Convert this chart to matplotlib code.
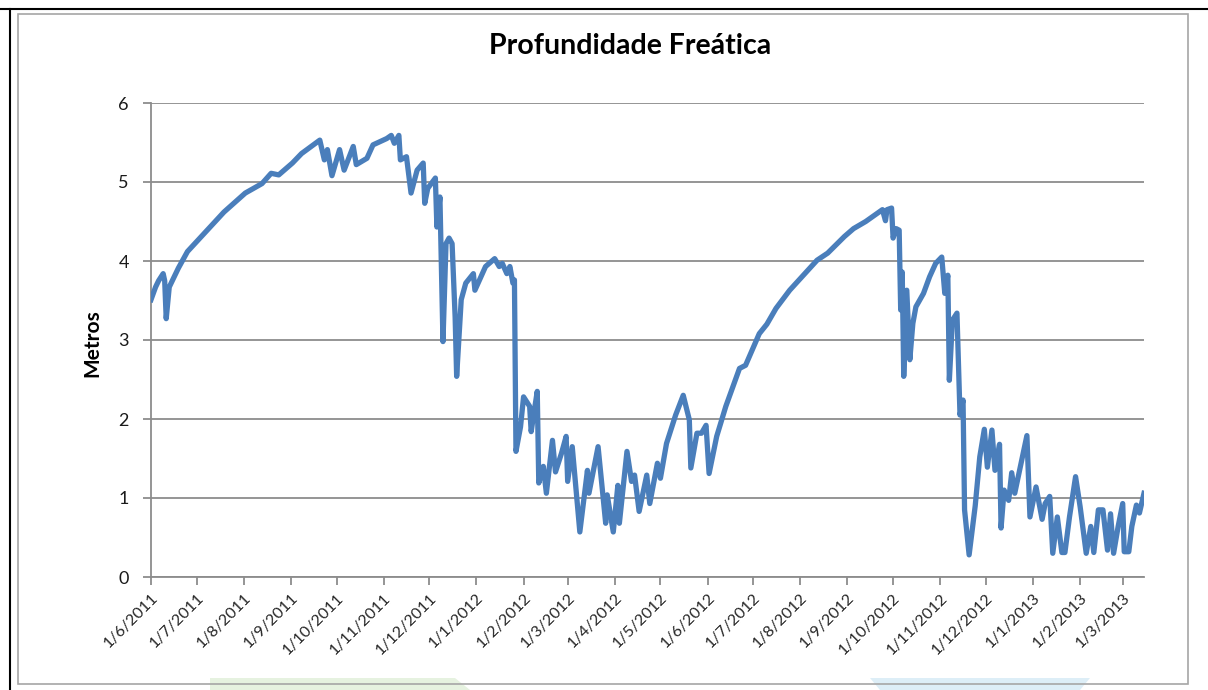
import matplotlib
matplotlib.use("Agg")
import matplotlib.pyplot as plt
from matplotlib.patches import Rectangle, Polygon
from matplotlib.lines import Line2D
import pandas as pd

title = "Profundidade Freática"
ylabel = "Metros"

dates = [
    "2011-06-01", "2011-06-04", "2011-06-06", "2011-06-09", "2011-06-10", "2011-06-11",
    "2011-06-13", "2011-06-19", "2011-06-25", "2011-07-06", "2011-07-19", "2011-08-02",
    "2011-08-13", "2011-08-19", "2011-08-24", "2011-09-02", "2011-09-08", "2011-09-20",
    "2011-09-23", "2011-09-25", "2011-09-28", "2011-10-03", "2011-10-06", "2011-10-12",
    "2011-10-14", "2011-10-21", "2011-10-25", "2011-11-03", "2011-11-06", "2011-11-08",
    "2011-11-11", "2011-11-12", "2011-11-16", "2011-11-19", "2011-11-23", "2011-11-27",
    "2011-11-28", "2011-11-30", "2011-12-05", "2011-12-06", "2011-12-08", "2011-12-10",
    "2011-12-12", "2011-12-14", "2011-12-16", "2011-12-18", "2011-12-19", "2011-12-22",
    "2011-12-25", "2011-12-30", "2011-12-31", "2012-01-03", "2012-01-07", "2012-01-13",
    "2012-01-16", "2012-01-18", "2012-01-21", "2012-01-23", "2012-01-25", "2012-01-26",
    "2012-01-27", "2012-01-30", "2012-02-01", "2012-02-05", "2012-02-06", "2012-02-08",
    "2012-02-10", "2012-02-11", "2012-02-14", "2012-02-16", "2012-02-20", "2012-02-22",
    "2012-02-26", "2012-02-29", "2012-03-01", "2012-03-04", "2012-03-09", "2012-03-14",
    "2012-03-15", "2012-03-21", "2012-03-26", "2012-03-27", "2012-03-31", "2012-04-03",
    "2012-04-04", "2012-04-09", "2012-04-12", "2012-04-14", "2012-04-17", "2012-04-22",
    "2012-04-24", "2012-04-29", "2012-05-01", "2012-05-05", "2012-05-11", "2012-05-16",
    "2012-05-19", "2012-05-20", "2012-05-21", "2012-05-25", "2012-05-28", "2012-05-31",
    "2012-06-02", "2012-06-07", "2012-06-13", "2012-06-22", "2012-06-26", "2012-07-05",
    "2012-07-10", "2012-07-16", "2012-07-25", "2012-08-03", "2012-08-12", "2012-08-19",
    "2012-08-30", "2012-09-05", "2012-09-13", "2012-09-24", "2012-09-26", "2012-09-27",
    "2012-09-30", "2012-10-01", "2012-10-03", "2012-10-05", "2012-10-06", "2012-10-07",
    "2012-10-08", "2012-10-10", "2012-10-12", "2012-10-14", "2012-10-16", "2012-10-21",
    "2012-10-25", "2012-10-29", "2012-11-02", "2012-11-04", "2012-11-06", "2012-11-07",
    "2012-11-09", "2012-11-12", "2012-11-14", "2012-11-16", "2012-11-17", "2012-11-20",
    "2012-11-24", "2012-11-27", "2012-11-30", "2012-12-02", "2012-12-05", "2012-12-07",
    "2012-12-10", "2012-12-11", "2012-12-13", "2012-12-16", "2012-12-18", "2012-12-20",
    "2012-12-28", "2012-12-30", "2013-01-03", "2013-01-07", "2013-01-09", "2013-01-12",
    "2013-01-14", "2013-01-17", "2013-01-20", "2013-01-22", "2013-01-25", "2013-01-29",
    "2013-02-01", "2013-02-05", "2013-02-08", "2013-02-10", "2013-02-13", "2013-02-16",
    "2013-02-19", "2013-02-21", "2013-02-23", "2013-02-26", "2013-03-01", "2013-03-02",
    "2013-03-05", "2013-03-07", "2013-03-10", "2013-03-12", "2013-03-15",
]

depth_m = [
    3.51, 3.67, 3.75, 3.84, 3.75, 3.27,
    3.67, 3.91, 4.12, 4.35, 4.62, 4.86,
    4.98, 5.11, 5.09, 5.24, 5.36, 5.53,
    5.28, 5.41, 5.08, 5.41, 5.15, 5.45,
    5.22, 5.30, 5.47, 5.55, 5.59, 5.49,
    5.59, 5.28, 5.32, 4.86, 5.15, 5.24,
    4.73, 4.92, 5.05, 4.43, 4.81, 2.98,
    4.22, 4.29, 4.22, 3.29, 2.54, 3.51,
    3.72, 3.84, 3.63, 3.76, 3.93, 4.03,
    3.93, 3.97, 3.84, 3.93, 3.72, 3.76,
    1.59, 1.90, 2.28, 2.16, 1.84, 2.10,
    2.35, 1.19, 1.40, 1.06, 1.73, 1.33,
    1.57, 1.78, 1.21, 1.65, 0.57, 1.35,
    1.06, 1.65, 0.68, 1.04, 0.57, 1.16,
    0.68, 1.59, 1.21, 1.29, 0.83, 1.29,
    0.93, 1.44, 1.25, 1.69, 2.05, 2.30,
    2.07, 1.99, 1.38, 1.82, 1.82, 1.92,
    1.31, 1.78, 2.16, 2.64, 2.68, 3.08,
    3.20, 3.40, 3.63, 3.82, 4.01, 4.10,
    4.31, 4.41, 4.50, 4.65, 4.51, 4.65,
    4.67, 4.29, 4.41, 4.39, 3.38, 3.86,
    2.54, 3.63, 2.75, 3.21, 3.42, 3.59,
    3.80, 3.97, 4.05, 3.59, 3.82, 2.49,
    3.25, 3.34, 2.05, 2.24, 0.85, 0.28,
    0.90, 1.52, 1.87, 1.39, 1.86, 1.35,
    1.68, 0.62, 1.10, 0.97, 1.32, 1.06,
    1.79, 0.76, 1.14, 0.73, 0.93, 1.02,
    0.30, 0.76, 0.31, 0.31, 0.76, 1.27,
    0.89, 0.30, 0.64, 0.31, 0.85, 0.85,
    0.34, 0.80, 0.30, 0.64, 0.93, 0.32,
    0.32, 0.64, 0.91, 0.81, 1.06,
]

tick_dates = [
    "2011-06-01", "2011-07-01", "2011-08-01", "2011-09-01", "2011-10-01", "2011-11-01",
    "2011-12-01", "2012-01-01", "2012-02-01", "2012-03-01", "2012-04-01", "2012-05-01",
    "2012-06-01", "2012-07-01", "2012-08-01", "2012-09-01", "2012-10-01", "2012-11-01",
    "2012-12-01", "2013-01-01", "2013-02-01", "2013-03-01",
]
tick_labels = [
    "1/6/2011", "1/7/2011", "1/8/2011", "1/9/2011", "1/10/2011", "1/11/2011",
    "1/12/2011", "1/1/2012", "1/2/2012", "1/3/2012", "1/4/2012", "1/5/2012",
    "1/6/2012", "1/7/2012", "1/8/2012", "1/9/2012", "1/10/2012", "1/11/2012",
    "1/12/2012", "1/1/2013", "1/2/2013", "1/3/2013",
]
y_ticks = [0, 1, 2, 3, 4, 5, 6]

plt.rcParams['font.family'] = ['Lato', 'DejaVu Sans']

W, H = 1208, 690
fig = plt.figure(figsize=(W / 100, H / 100), dpi=100)
fig.patch.set_facecolor("white")

# faint watermark shapes at the bottom
fig.patches.append(Polygon([(210 / W, 0), (210 / W, 12 / H), (455 / W, 12 / H), (470 / W, 0)],
                           closed=True, transform=fig.transFigure, facecolor="#e6f2e0",
                           edgecolor="none", zorder=0))
fig.patches.append(Polygon([(870 / W, 12 / H), (1090 / W, 12 / H), (1080 / W, 0), (880 / W, 0)],
                           closed=True, transform=fig.transFigure, facecolor="#ddeef7",
                           edgecolor="none", zorder=0))

# page frame lines
fig.lines.append(Line2D([0, 1], [1 - 9 / H, 1 - 9 / H], transform=fig.transFigure,
                        color="black", lw=1.5))
fig.lines.append(Line2D([10 / W, 10 / W], [0, 1 - 9 / H], transform=fig.transFigure,
                        color="black", lw=1.5))
# chart area border
fig.patches.append(Rectangle((18 / W, 6 / H), (1188 - 18) / W, (676 - 6) / H,
                             transform=fig.transFigure, facecolor="none",
                             edgecolor="#a6a6a6", lw=1.2))

ax = fig.add_axes([151 / W, 113 / H, (1144 - 151) / W, (577 - 103) / H])
x = pd.to_datetime(dates)
ax.plot(x, depth_m, color="#4a7ebb", lw=3.8, solid_joinstyle="round", zorder=3)

ax.set_xlim(pd.Timestamp("2011-06-01"), pd.Timestamp("2013-03-15"))
ax.set_ylim(0, 6)
ax.set_yticks(y_ticks)
ax.set_yticklabels([str(v) for v in y_ticks], fontsize=13, color="#1a1a1a")
ax.yaxis.grid(True, color="#8c8c8c", lw=1.3)
ax.set_axisbelow(True)

ax.set_xticks(pd.to_datetime(tick_dates))
ax.set_xticklabels(tick_labels, rotation=45, ha="right", rotation_mode="anchor",
                   fontsize=11.5, color="#262626")

for s in ["top", "right"]:
    ax.spines[s].set_visible(False)
for s in ["left", "bottom"]:
    ax.spines[s].set_color("#8c8c8c")
    ax.spines[s].set_linewidth(1.3)
ax.tick_params(axis="both", which="major", direction="out", length=6, width=1.3,
               color="#8c8c8c")
ax.tick_params(axis="y", pad=10)
ax.tick_params(axis="x", pad=4)

fig.text(630 / W, 1 - 46 / H, title, ha="center", va="center", fontsize=20.5,
         fontweight="bold", color="black")
fig.text(92 / W, 1 - 343 / H, ylabel, ha="center", va="center", rotation=90,
         fontsize=15, fontweight="bold", color="black")

fig.savefig("out.png", dpi=100, facecolor="white")
